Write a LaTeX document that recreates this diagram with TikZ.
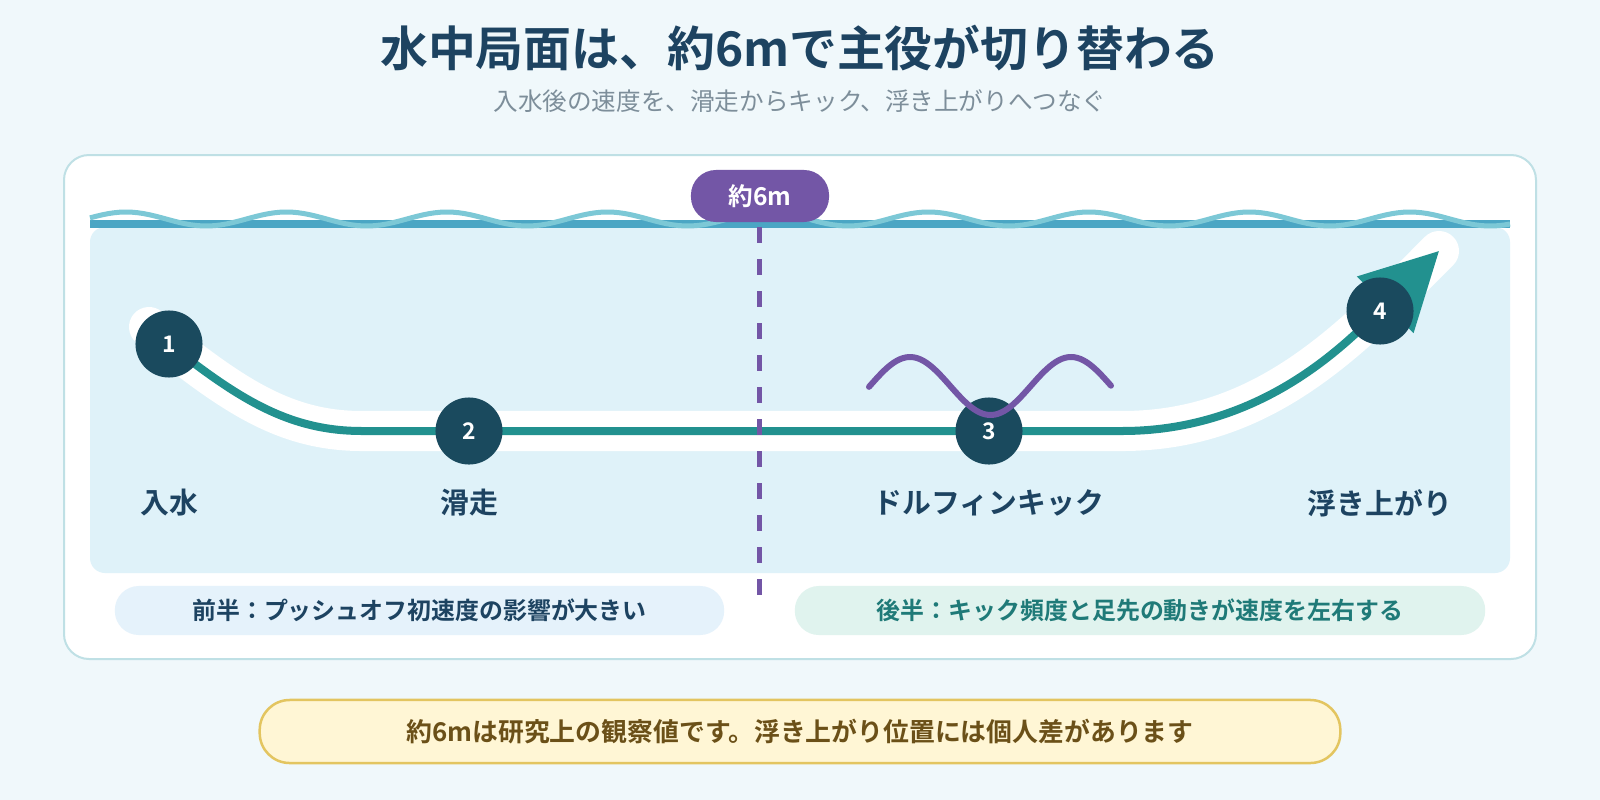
\documentclass[tikz,border=0pt]{standalone}
\usepackage{fontspec}
\setmainfont{Noto Sans CJK JP}[BoldFont={Noto Sans CJK JP Bold}]
\usepackage{tikz}
\usetikzlibrary{arrows.meta,positioning,calc}
\definecolor{SwimPage}{HTML}{F0F8FB}
\definecolor{SwimNavy}{HTML}{1D4361}
\definecolor{SwimGray}{HTML}{7D8E9A}
\definecolor{SwimEdge}{HTML}{BFE0E5}
\definecolor{SwimWater}{HTML}{DFF2F9}
\definecolor{SwimSurface}{HTML}{4BA6C4}
\definecolor{SwimRipple}{HTML}{7CC8D6}
\definecolor{SwimTeal}{HTML}{22918F}
\definecolor{SwimDeep}{HTML}{1A4A5E}
\definecolor{SwimPurple}{HTML}{7356A6}
\definecolor{SwimEarly}{HTML}{E5F2FB}
\definecolor{SwimLate}{HTML}{E0F3EE}
\definecolor{SwimLateText}{HTML}{1F7A78}
\definecolor{SwimNote}{HTML}{FFF6D5}
\definecolor{SwimNoteEdge}{HTML}{E3C560}
\definecolor{SwimNoteText}{HTML}{6B5018}
\tikzset{
  stage/.style={circle,fill=SwimDeep,text=white,inner sep=0pt,minimum size=6.7mm,
    font=\bfseries\fontsize{6.5}{8}\selectfont},
  stagelabel/.style={text=SwimNavy,font=\bfseries\fontsize{8.2}{10}\selectfont},
  halfpill/.style={rounded corners=2.4mm,minimum height=4.9mm,inner sep=0pt,
    font=\bfseries\fontsize{6.8}{8}\selectfont},
  marker/.style={fill=SwimPurple,text=white,rounded corners=2.5mm,minimum width=13.8mm,
    minimum height=5.2mm,inner sep=0pt,font=\bfseries\fontsize{7}{8}\selectfont},
  halo/.style={white,line width=4mm,line cap=round,line join=round},
  glide/.style={SwimTeal,line width=0.8mm,-{Triangle[length=7.6mm,width=7.8mm]}},
  split/.style={SwimPurple,line width=0.5mm,dash pattern=on 1.6mm off 1.6mm},
  kick/.style={SwimPurple,line width=0.6mm,line cap=round},
  ripple/.style={SwimRipple,line width=0.5mm}
}
\begin{document}
\begin{tikzpicture}[x=0.01cm,y=-0.01cm]
  \fill[SwimPage] (0,0) rectangle (1600,800);
  \useasboundingbox (0,0) rectangle (1600,800);
  % heading
  \node[text=SwimNavy,font=\bfseries\fontsize{13.6}{16}\selectfont] (title) at (800,48) {水中局面は、約6mで主役が切り替わる};
  \node[text=SwimGray,font=\fontsize{7}{9}\selectfont] (subtitle) at (800,101) {入水後の速度を、滑走からキック、浮き上がりへつなぐ};
  % card and pool
  \draw[SwimEdge,fill=white,line width=0.2mm,rounded corners=2.5mm] (64,155) rectangle (1536,659);
  \fill[SwimWater,rounded corners=1.5mm] (90,227) rectangle (1510,573);
  \draw[SwimSurface,line width=0.75mm] (90,224) -- (1510,224);
  \draw[ripple] plot[domain=90:1510,samples=240] (\x,{219-7*cos((\x-126)/160.5*360)});
  % path of the swimmer
  \coordinate (p1) at (169,344);
  \coordinate (p2) at (469,431);
  \coordinate (p3) at (989,431);
  \coordinate (p4) at (1380,311);
  \coordinate (bendL) at (362,431);
  \coordinate (bendR) at (1122,431);
  \coordinate (tip) at (1439,251);
  \draw[halo] ($(p1)+(-20,-17)$) -- (p1) .. controls (240,400) and (290,431) .. (bendL)
    -- (bendR) .. controls (1265,431) and (1350,340) .. (tip);
  \draw[glide] (p1) .. controls (240,400) and (290,431) .. (bendL)
    -- (bendR) .. controls (1265,431) and (1350,340) .. (tip);
  \draw[split] (759,227) -- (759,595);
  \node[stage] (n1) at (p1) {1};
  \node[stage] (n2) at (p2) {2};
  \node[stage] (n3) at (p3) {3};
  \node[stage] (n4) at (p4) {4};
  \draw[kick] plot[domain=869:1111,samples=80] (\x,{386-29*cos((\x-910)/161*360)});
  \node[stagelabel] (l1) at (169,503) {入水};
  \node[stagelabel] (l2) at (469,503) {滑走};
  \node[stagelabel] (l3) at (989,503) {ドルフィンキック};
  \node[stagelabel] (l4) at (1380,503) {浮き上がり};
  % halves
  \node[halfpill,fill=SwimEarly,text=SwimNavy,minimum width=60.9mm] (early) at (419.5,610.5) {前半：プッシュオフ初速度の影響が大きい};
  \node[halfpill,fill=SwimLate,text=SwimLateText,minimum width=69mm] (late) at (1140,610.5) {後半：キック頻度と足先の動きが速度を左右する};
  \node[marker] (six) at (760,196) {約6m};
  % note
  \node[draw=SwimNoteEdge,line width=0.25mm,fill=SwimNote,text=SwimNoteText,rounded corners=3mm,
    minimum width=108mm,minimum height=6.3mm,inner sep=0pt,font=\bfseries\fontsize{7.35}{9}\selectfont] (note) at (800,731.5)
    {約6mは研究上の観察値です。浮き上がり位置には個人差があります};
\end{tikzpicture}
\end{document}
